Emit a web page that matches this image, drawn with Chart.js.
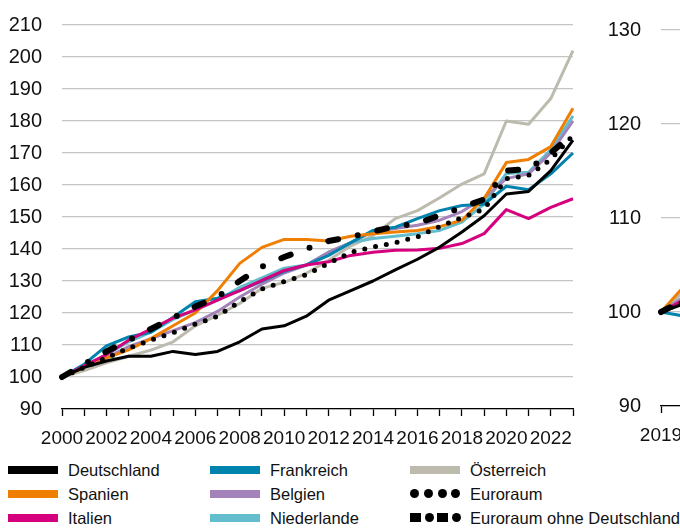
<!DOCTYPE html>
<html>
<head>
<meta charset="utf-8">
<script src="https://cdn.jsdelivr.net/npm/chart.js@4"></script>
<style>
  html, body { margin: 0; padding: 0; background: #fff; }
  body { width: 680px; height: 530px; overflow: hidden; position: relative;
         font-family: 'Liberation Sans', Arial, sans-serif; }
  #left { position: absolute; left: 0; top: -7px; }
  #right { position: absolute; left: 590px; top: -2px; }
  .leg { position: absolute; font-size: 16.5px; color: #111; line-height: 20px; white-space: nowrap; }
  .sw { position: absolute; left: 0; top: 6px; width: 50px; height: 8px; }
  .dot { position: absolute; top: -1px; width: 9px; height: 9px; border-radius: 50%; background: #000; }
  .sq { position: absolute; top: -1px; width: 11px; height: 9px; background: #000; }
  .txt { position: absolute; left: 60px; top: 0; }
</style>
</head>
<body>
<canvas id="left" width="600" height="467"></canvas>
<canvas id="right" width="440" height="462"></canvas>
<div id="legend"></div>
<script>
// ---------- Daten (Index 2000 = 100) ----------
var years = [2000,2001,2002,2003,2004,2005,2006,2007,2008,2009,2010,2011,
             2012,2013,2014,2015,2016,2017,2018,2019,2020,2021,2022,2023];

var deutschland = [100,103,105,106.5,106.5,108,107,108,111,115,116,119,124,127,130,133.5,136.8,140.6,145.3,150.4,157.2,158,164.5,174];
var spanien     = [100,103,106,108.5,112,116,120,127,135.5,140.5,143,143,142.5,144,144.8,145.3,145.8,147,149,155.8,167,168,172,184];
var italien     = [100,103.5,107,111.5,115,118.4,121,124,127,130.2,133.3,135,136,138,139,139.6,139.7,140.2,141.7,144.8,152.3,149.5,153,155.7];
var frankreich  = [100,104,109.7,112.5,114,118.7,123.5,124.6,127,130,133,135,138,142,145.8,146.8,149.5,152,153.6,154,159.6,158.5,163.5,170];
var belgien     = [100,103.5,106,109.5,112,114.5,117,120.5,125,129,132.5,135,139,142,145.5,146.4,147.4,149,151.7,156,162,163.5,170,180];
var niederlande = [100,103.5,107,111,114,118,121,124,128,131,134,135,139,142,143.3,144,144.8,145.8,148.4,154,163.6,164,171,181.6];
var oesterreich = [100,102,104.4,106.5,108.4,111,116,119.3,123,127.7,129.6,132.4,136.5,141,144.2,149.5,152,156,160.3,163.5,180,179,187,202];
var euroraum    = [100,103,106,109,111.5,113.8,116.5,119,123.5,127.5,129.8,132,135.5,139,140.6,142,143.8,147,149.8,152.5,162,163,168,175.5];
var euroOhneDE  = [100,104,108,111.5,115,118.5,122,125,130,134.5,137.5,140,142.5,143.8,145.5,147,148,150.5,153,155.5,164.5,165,170,176];

// rechtes Panel (2019 = 100), Quartale - nur Anfang sichtbar
var quarters = ['2019','','','','2020','','','','2021','','','','2022','','','','2023'];
var rDeutschland = [100,100.8,101.3];
var rSpanien     = [100,102.5,103.4];
var rItalien     = [100,101.2,101.6];
var rFrankreich  = [100,99.6,100.4];
var rBelgien     = [100,101.5,102.1];
var rNiederlande = [100,101.4,102.3];
var rOesterreich = [100,102,103];
var rEuroraum    = [100,101,101.6];
var rEuroOhneDE  = [100,101.2,101.9];

var yTicksLeft  = [90,210,10];
var yTicksRight = [90,130,10];

// ---------- Serien ----------
var series = [
  {label:'Euroraum ohne Deutschland', left:euroOhneDE, right:rEuroOhneDE, color:'#000', width:6, dash:[10,20,0,20], cap:'round'},
  {label:'Euroraum',    left:euroraum,    right:rEuroraum,    color:'#000',    width:5, dash:[0,11], cap:'round'},
  {label:'Deutschland', left:deutschland, right:rDeutschland, color:'#000000', width:3},
  {label:'Italien',     left:italien,     right:rItalien,     color:'#D6007F', width:3},
  {label:'Spanien',     left:spanien,     right:rSpanien,     color:'#F07E00', width:3},
  {label:'Frankreich',  left:frankreich,  right:rFrankreich,  color:'#0083AC', width:3},
  {label:'Belgien',     left:belgien,     right:rBelgien,     color:'#A383B9', width:3},
  {label:'Niederlande', left:niederlande, right:rNiederlande, color:'#62BDCD', width:3},
  {label:'Österreich',  left:oesterreich, right:rOesterreich, color:'#BDBBAD', width:3}
];

var FONT = "'Liberation Sans', Arial, sans-serif";
var GRID = '#c4c4c4';

function makeSets(key){
  return series.map(function(s){
    return {
      label: s.label,
      data: s[key],
      borderColor: s.color,
      backgroundColor: s.color,
      borderWidth: s.width,
      borderDash: s.dash || [],
      borderCapStyle: s.cap || 'butt',
      borderJoinStyle: 'round',
      pointRadius: 0,
      tension: 0,
      fill: false
    };
  });
}

function makeChart(id, labels, key, yt, yWidth, xHeight, pad, xCb){
  var ctx = document.getElementById(id).getContext('2d');
  return new Chart(ctx, {
    type: 'line',
    data: { labels: labels, datasets: makeSets(key) },
    options: {
      responsive: false,
      animation: false,
      layout: { padding: pad },
      plugins: { legend: { display: false }, tooltip: { enabled: false } },
      scales: {
        x: {
          offset: false,
          grid: { display: true, drawOnChartArea: false, drawTicks: true, tickLength: 7, tickColor: '#000', tickWidth: 1.3 },
          border: { display: true, color: '#000', width: 1.3 },
          ticks: { autoSkip: false, maxRotation: 0, minRotation: 0, padding: 11,
                   color: '#111', font: { family: FONT, size: 19 }, callback: xCb },
          afterFit: function(s){ s.height = xHeight; }
        },
        y: {
          min: yt[0], max: yt[1],
          grid: { color: GRID, lineWidth: 1.3, drawTicks: false },
          border: { display: false },
          ticks: { stepSize: yt[2], padding: 20, color: '#111', font: { family: FONT, size: 20 } },
          afterFit: function(s){ s.width = yWidth; }
        }
      }
    }
  });
}

makeChart('left', years, 'left', yTicksLeft, 62, 51, {top:16, right:27, bottom:0, left:0},
  function(v, i){ return years[i] % 2 === 0 ? String(years[i]) : ''; });
makeChart('right', quarters, 'right', yTicksRight, 71, 54, {top:21, right:10, bottom:0, left:0},
  function(v, i){ return quarters[i]; });

// ---------- Legende ----------
var legendPos = [
  ['Deutschland', 8, 460], ['Spanien', 8, 484], ['Italien', 8, 508],
  ['Frankreich', 210, 460], ['Belgien', 210, 484], ['Niederlande', 210, 508],
  ['Österreich', 410, 460], ['Euroraum', 410, 484], ['Euroraum ohne Deutschland', 410, 508]
];
var leg = document.getElementById('legend');
legendPos.forEach(function(p){
  var s = series.filter(function(d){ return d.label === p[0]; })[0];
  var el = document.createElement('div');
  el.className = 'leg';
  el.style.left = p[1] + 'px';
  el.style.top = p[2] + 'px';
  var sw = '<div class="sw" style="background:' + s.color + '"></div>';
  if (s.label === 'Euroraum') {
    sw = '<div class="sw">' + [0,14,28,41].map(function(x){ return '<span class="dot" style="left:' + x + 'px"></span>'; }).join('') + '</div>';
  } else if (s.label === 'Euroraum ohne Deutschland') {
    sw = '<div class="sw"><span class="sq" style="left:0"></span><span class="dot" style="left:15px"></span>' +
         '<span class="sq" style="left:27px"></span><span class="dot" style="left:42px"></span></div>';
  }
  el.innerHTML = sw + '<span class="txt">' + s.label + '</span>';
  leg.appendChild(el);
});
</script>
</body>
</html>
